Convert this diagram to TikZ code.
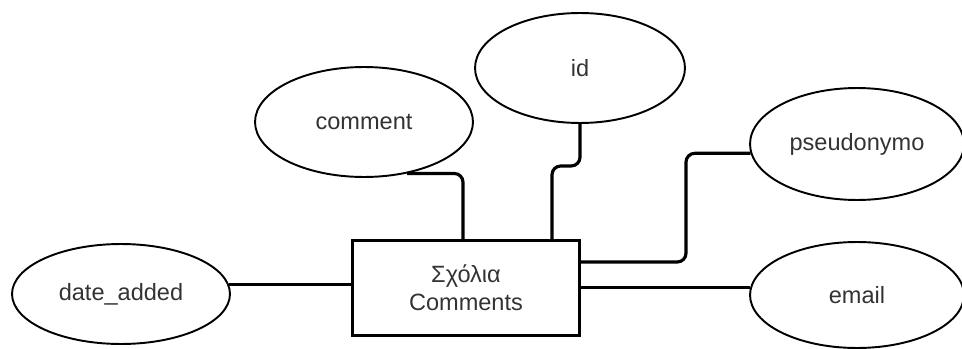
\documentclass[tikz,border=0pt]{standalone}
\usepackage{fontspec}
\setmainfont{Liberation Sans}
\usetikzlibrary{shapes.geometric}
\begin{document}
\begin{tikzpicture}[x=0.02cm,y=-0.02cm,
    every node/.style={font=\fontsize{13.4}{16}\selectfont,text=black!80},
    attr/.style={ellipse,draw,line width=1.1pt,inner sep=0pt},
    entity/.style={rectangle,draw,line width=1.2pt,align=center,minimum width=4.54cm,minimum height=1.9cm},
    link/.style={line width=1.8pt,rounded corners=5pt}]
  \useasboundingbox (0,0) rectangle (962,348);
  \clip (0,0) rectangle (962,348);

  \node[entity] (box) at (466,288) {Σχόλια\\Comments};

  \node[attr,minimum width=4.36cm,minimum height=2cm] (date) at (121,294) {date\_added};
  \node[attr,minimum width=4.36cm,minimum height=2.2cm] (comment) at (364,122) {comment};
  \node[attr,minimum width=4.2cm,minimum height=2.2cm] (id) at (580,68) {id};
  \node[attr,minimum width=4.28cm,minimum height=2.24cm] (pseu) at (857,144) {pseudonymo};
  \node[attr,minimum width=4.28cm,minimum height=2.12cm] (email) at (857,295) {email};

  \coordinate (cfoot) at (463,240);
  \coordinate (ifoot) at (552,240);
  \coordinate (pbend) at (686,262);

  \draw[link] (date.5) -- (date.5 -| box.west);
  \draw[link] (comment.-50) -| (cfoot);
  \draw[link] (id.south) -- ++(0,42) -| (ifoot);
  \draw[link] (pseu.185) -| (pbend) -- (pbend -| box.east);
  \draw[link] (box.east |- email.176) -- (email.176);
\end{tikzpicture}
\end{document}
